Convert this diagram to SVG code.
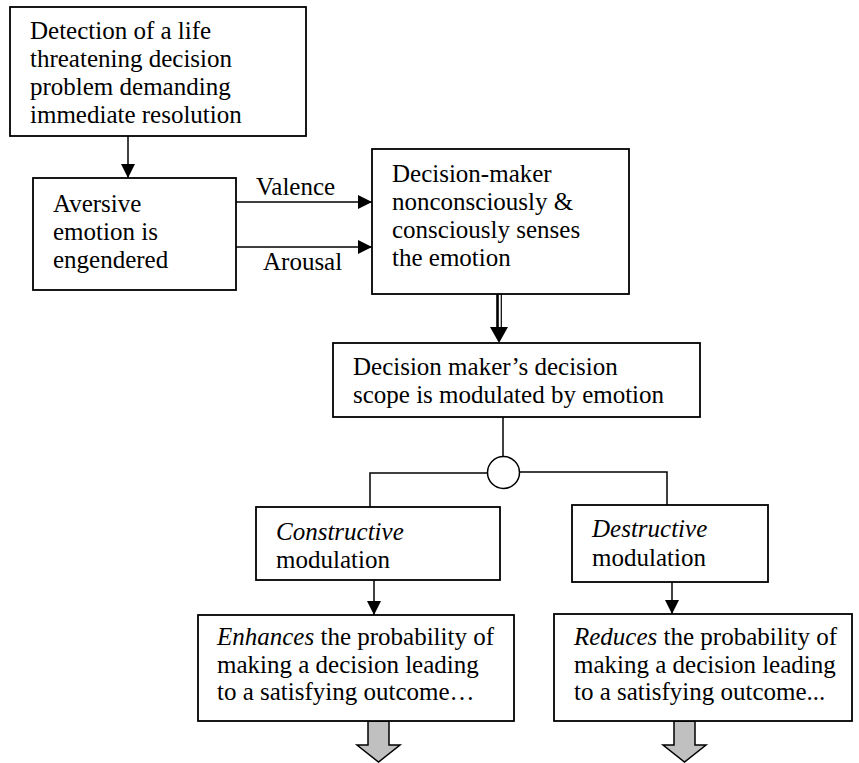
<svg xmlns="http://www.w3.org/2000/svg" width="859" height="763" viewBox="0 0 859 763">
<style>
.box{fill:#fff;stroke:#000;stroke-width:1.8}
text{font-family:'Liberation Serif','Times New Roman','DejaVu Serif',serif;font-size:25px;fill:#000}
.i{font-style:italic}
.ln{fill:none;stroke:#000;stroke-width:1.5}
.gray{fill:#c0c0c0;stroke:#000;stroke-width:1.5;stroke-linejoin:miter}
</style>
<defs>
<marker id="ah" markerWidth="14" markerHeight="14" refX="14" refY="7" orient="auto" markerUnits="userSpaceOnUse">
<path d="M0,0 L14,7 L0,14 Z" fill="#000"/>
</marker>
</defs>
<rect width="859" height="763" fill="#fff"/>
<g id="connectors">
<line class="ln" x1="128" y1="136" x2="128" y2="178" marker-end="url(#ah)"/>
<line class="ln" x1="236" y1="202" x2="372" y2="202" marker-end="url(#ah)"/>
<line class="ln" x1="236" y1="247" x2="372" y2="247" marker-end="url(#ah)"/>
<line x1="497.5" y1="294" x2="497.5" y2="330" stroke="#000" stroke-width="2.6"/>
<line x1="501.3" y1="294" x2="501.3" y2="330" stroke="#000" stroke-width="1.2"/>
<path d="M490,327 L508,327 L499,343 Z" fill="#000"/>
<line class="ln" x1="503" y1="417" x2="503" y2="457"/>
<circle cx="503.5" cy="472.5" r="16" fill="#fff" stroke="#000" stroke-width="1.5"/>
<polyline class="ln" points="487.5,473 370,473 370,507"/>
<polyline class="ln" points="519.5,472 667,472 667,505"/>
<line class="ln" x1="374" y1="580" x2="374" y2="615" marker-end="url(#ah)"/>
<line class="ln" x1="672" y1="582" x2="672" y2="614" marker-end="url(#ah)"/>
<path class="gray" d="M368,721 L389,721 L389,745 L400,745 L378.5,762 L357,745 L368,745 Z"/>
<path class="gray" d="M674,721 L695,721 L695,745 L706,745 L684.5,762 L663,745 L674,745 Z"/>
<text font-family="Liberation Serif, serif" x="256" y="195">Valence</text>
<text font-family="Liberation Serif, serif" x="263" y="270">Arousal</text>
</g>
<g id="detection" font-family="Liberation Serif, serif">
<rect class="box" x="10" y="7" width="296" height="129"/>
<text x="30" y="39">Detection of a life</text>
<text x="30" y="67">threatening decision</text>
<text x="30" y="95">problem demanding</text>
<text x="30" y="123">immediate resolution</text>
</g>
<g id="aversive">
<rect class="box" x="33" y="178" width="203" height="112"/>
<text x="53" y="212">Aversive</text>
<text x="53" y="240">emotion is</text>
<text x="53" y="268">engendered</text>
</g>
<g id="senses">
<rect class="box" x="372" y="149" width="257" height="145"/>
<text x="392" y="182">Decision-maker</text>
<text x="392" y="210">nonconsciously &amp;</text>
<text x="392" y="238">consciously senses</text>
<text x="392" y="266">the emotion</text>
</g>
<g id="scope">
<rect class="box" x="333" y="343" width="367" height="74"/>
<text x="353" y="375">Decision maker’s decision</text>
<text x="353" y="403">scope is modulated by emotion</text>
</g>
<g id="constructive">
<rect class="box" x="256" y="507" width="244" height="73"/>
<text class="i" x="276" y="540">Constructive</text>
<text x="276" y="568">modulation</text>
</g>
<g id="destructive">
<rect class="box" x="572" y="505" width="196" height="77"/>
<text class="i" x="592" y="537">Destructive</text>
<text x="592" y="566">modulation</text>
</g>
<g id="enhances">
<rect class="box" x="198" y="615" width="316" height="106"/>
<text x="217" y="645"><tspan class="i">Enhances</tspan> the probability of</text>
<text x="217" y="673">making a decision leading</text>
<text x="217" y="700">to a satisfying outcome…</text>
</g>
<g id="reduces">
<rect class="box" x="554" y="614" width="298" height="107"/>
<text x="574" y="645"><tspan class="i">Reduces</tspan> the probability of</text>
<text x="574" y="673">making a decision leading</text>
<text x="574" y="700">to a satisfying outcome...</text>
</g>
</svg>
